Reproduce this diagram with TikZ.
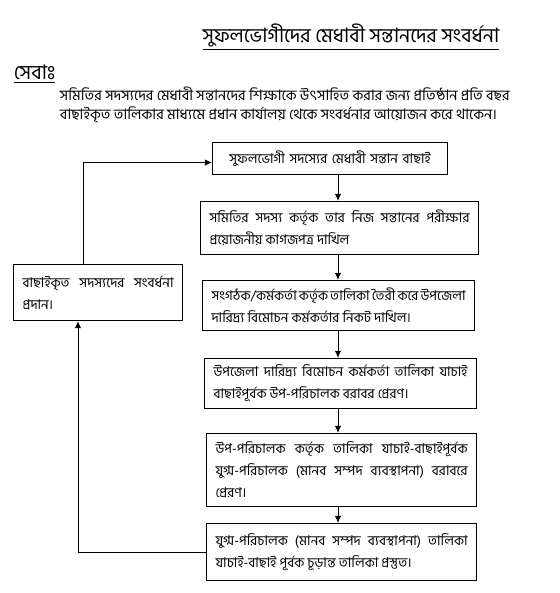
\documentclass[tikz,border=0pt]{standalone}
\usepackage{fontspec}
\newfontfamily\bn[Script=Bengali]{Hind Siliguri}
\usetikzlibrary{arrows.meta}
\hyphenpenalty=10000
\exhyphenpenalty=10000

\tikzset{
  flowbox/.style={draw, line width=0.8pt, anchor=north west, inner xsep=0.225cm,
    inner ysep=0pt, align=justify, font=\bn\fontsize{9.6}{15.6}\selectfont},
  link/.style={line width=0.7pt, ->},
}

\begin{document}
\begin{tikzpicture}[x=0.025cm, y=-0.025cm, >={Latex[length=5pt,width=4.5pt]}]
\useasboundingbox (0,0) rectangle (560,593);

% heading and intro
\node (title) at (351,37) {\bn\fontsize{14.1}{16}\selectfont\underline{সুফলভোগীদের মেধাবী সন্তানদের সংবর্ধনা}};
\node[anchor=west] (seba) at (9,74) {\bn\fontsize{14.3}{16}\selectfont\underline{সেবাঃ}};
\node[anchor=north west, align=left, font=\bn\fontsize{10.3}{13.5}\selectfont] (intro) at (55,82)
  {সমিতির সদস্যদের মেধাবী সন্তানদের শিক্ষাকে উৎসাহিত করার জন্য প্রতিষ্ঠান প্রতি বছর\\
   বাছাইকৃত তালিকার মাধ্যমে প্রধান কার্যালয় থেকে সংবর্ধনার আয়োজন করে থাকেন।};

% flow boxes
\node[flowbox, align=center, text width=5.425cm, minimum height=0.8cm] (b1) at (212,142)
  {সুফলভোগী সদস্যের মেধাবী সন্তান বাছাই};
\node[flowbox, text width=6.5cm, minimum height=1.325cm] (b2) at (200,201)
  {সমিতির সদস্য কর্তৃক তার নিজ সন্তানের পরীক্ষার\linebreak প্রয়োজনীয় কাগজপত্র দাখিল};
\node[flowbox, text width=6.35cm, minimum height=1.25cm] (b3) at (202,280)
  {সংগঠক/কর্মকর্তা কর্তৃক তালিকা তৈরী করে উপজেলা\linebreak দারিদ্র্য বিমোচন কর্মকর্তার নিকট দাখিল।};
\node[flowbox, text width=6.35cm, minimum height=1.25cm] (b4) at (204,358)
  {উপজেলা দারিদ্র্য বিমোচন কর্মকর্তা তালিকা যাচাই\linebreak বাছাইপূর্বক উপ-পরিচালক বরাবর প্রেরণ।};
\node[flowbox, text width=6.3cm, minimum height=1.825cm] (b5) at (206,433)
  {উপ-পরিচালক কর্তৃক তালিকা যাচাই-বাছাইপূর্বক\linebreak যুগ্ম-পরিচালক (মানব সম্পদ ব্যবস্থাপনা) বরাবরে\linebreak প্রেরণ।};
\node[flowbox, text width=6.3cm, minimum height=1.425cm] (b6) at (206,523)
  {যুগ্ম-পরিচালক (মানব সম্পদ ব্যবস্থাপনা) তালিকা\linebreak যাচাই-বাছাই পূর্বক চূড়ান্ত তালিকা প্রস্তুত।};
\node[flowbox, text width=3.775cm, minimum height=1.4cm] (award) at (13,264)
  {বাছাইকৃত সদস্যদের সংবর্ধনা\linebreak প্রদান।};

% connectors
\coordinate (spine) at (338,0);
\coordinate (up) at (83,0);
\coordinate (dn) at (78,0);
\draw[link] (b1.south -| spine) -- (b2.north -| spine);
\draw[link] (b2.south -| spine) -- (b3.north -| spine);
\draw[link] (b3.south -| spine) -- (b4.north -| spine);
\draw[link] (b4.south -| spine) -- (b5.north -| spine);
\draw[link] (b5.south -| spine) -- (b6.north -| spine);
\draw[link] (award.north -| up) |- ([yshift=-0.1cm]b1.west);
\draw[link] (b6.west) -| (dn |- award.south);
\end{tikzpicture}
\end{document}
